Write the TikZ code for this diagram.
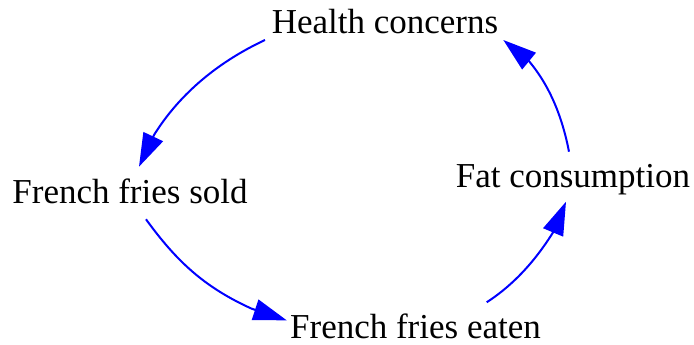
\documentclass[tikz,border=0pt]{standalone}
\usepackage{fontspec}
\setmainfont{Liberation Serif}
\usetikzlibrary{arrows.meta,calc}
\tikzset{
  lbl/.style={anchor=base,inner sep=0pt,font=\fontsize{26.25pt}{30pt}\selectfont},
  link/.style={draw=blue,line width=1.5pt,-{Triangle[length=25pt,width=16pt]},fill=none}
}
\begin{document}
\begin{tikzpicture}[x=0.75pt,y=-0.75pt]
\useasboundingbox (0,0) rectangle (694,345);
\node[lbl] (health) at (385,34) {Health concerns};
\node[lbl] (sold) at (130,204) {French fries sold};
\node[lbl] (fat) at (573,188) {Fat consumption};
\node[lbl] (eaten) at (415.5,339) {French fries eaten};
\draw[link] ($(health.base)+(-120,6)$) .. controls (219.7,61.2) and (180.5,92.5) .. ($(sold.base)+(24,-69)$) -- ($(sold.base)+(9,-37.3)$);
\draw[link] ($(sold.base)+(16,15.3)$) .. controls (176.6,261.4) and (204.3,287.2) .. ($(eaten.base)+(-163.8,-30.3)$) -- ($(eaten.base)+(-128.8,-18.7)$);
\draw[link] ($(eaten.base)+(71.2,-36.7)$) .. controls (514.4,284.3) and (535.8,260) .. ($(fat.base)+(-19.7,44)$) -- ($(fat.base)+(-7,13.7)$);
\draw[link] ($(fat.base)+(-4,-36.3)$) .. controls (562.5,118.3) and (550.6,86.8) .. ($(health.base)+(143.7,26.8)$) -- ($(health.base)+(118.3,6)$);
\end{tikzpicture}
\end{document}
